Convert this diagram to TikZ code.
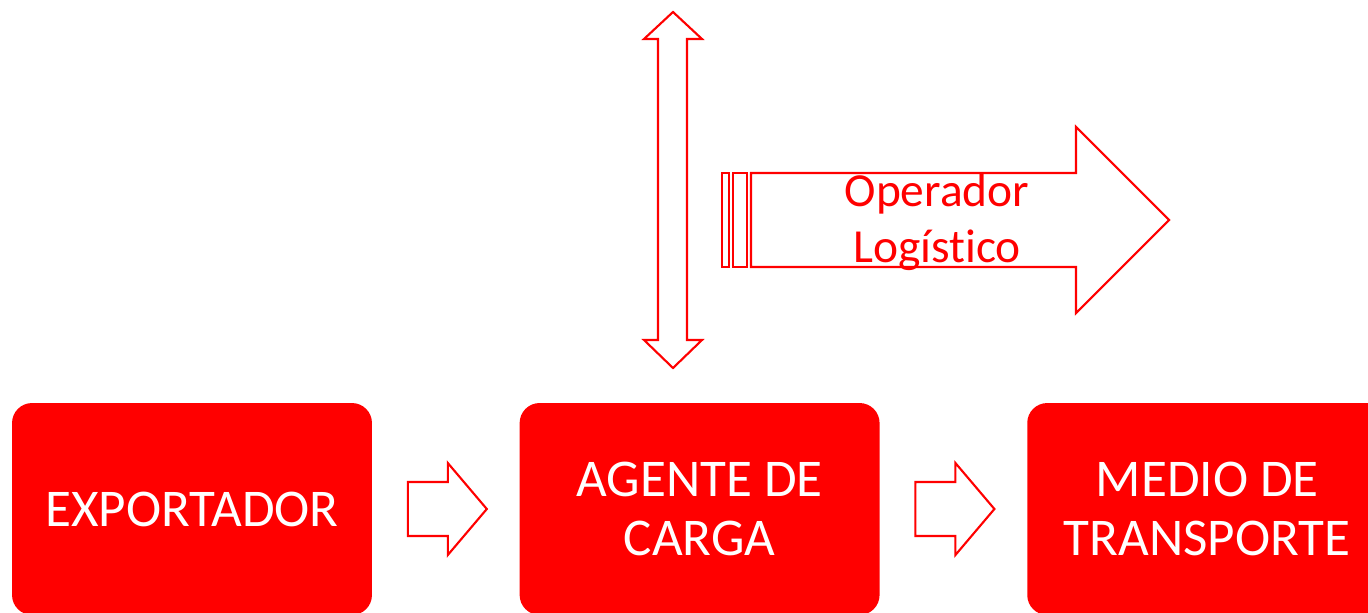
\documentclass[tikz,border=0pt]{standalone}
\usepackage{fontspec}
\setmainfont{Carlito}[Ligatures=NoCommon]
\usetikzlibrary{calc,positioning}

\begin{document}
\begin{tikzpicture}[x=0.02cm,y=-0.02cm,
  stage/.style={fill=red,rounded corners=0.4cm,minimum width=7.2cm,minimum height=4.24cm,
    inner sep=0pt,text=white,align=center,font=\fontsize{30.2}{33.5}\selectfont},
  blockarrow/.style={draw=red,line width=1.2pt,fill=white,line join=miter}]

\useasboundingbox (0,0) rectangle (1368,612);
\clip (0,0) rectangle (1368,612);

% the three stages
\node[stage] (exportador) at (192,509) {EXPORTADOR};
\node[stage,right=2.94cm of exportador] (agente) {AGENTE DE\\CARGA};
\node[stage,right=2.94cm of agente] (medio) {MEDIO DE\\TRANSPORTE};

% block arrows between the stages
\draw[blockarrow,shift={($(exportador.east)!.5!(agente.west)$)}]
  (-38,-27) -- (2,-27) -- (2,-46) -- (41,0) -- (2,46) -- (2,27) -- (-38,27) -- cycle;
\draw[blockarrow,shift={($(agente.east)!.5!(medio.west)$)}]
  (-38,-27) -- (2,-27) -- (2,-46) -- (41,0) -- (2,46) -- (2,27) -- (-38,27) -- cycle;

% up/down arrow above the agent
\draw[blockarrow] (673,12) -- (702,39) -- (687,39) -- (687,340) -- (702,340) -- (673,368)
  -- (644,340) -- (658,340) -- (658,39) -- (644,39) -- cycle;

% striped arrow of the logistic operator
\draw[blockarrow] (722,173) rectangle (729,267);
\draw[blockarrow] (733,173) rectangle (747,267);
\draw[blockarrow] (751,173) -- (1076,173) -- (1076,127) -- (1169,220) -- (1076,313)
  -- (1076,267) -- (751,267) -- cycle;
\node[text=red,align=center,font=\fontsize{27}{32.3}\selectfont] (operador) at (937,222)
  {Operador\\Log\'istico};

\end{tikzpicture}
\end{document}
